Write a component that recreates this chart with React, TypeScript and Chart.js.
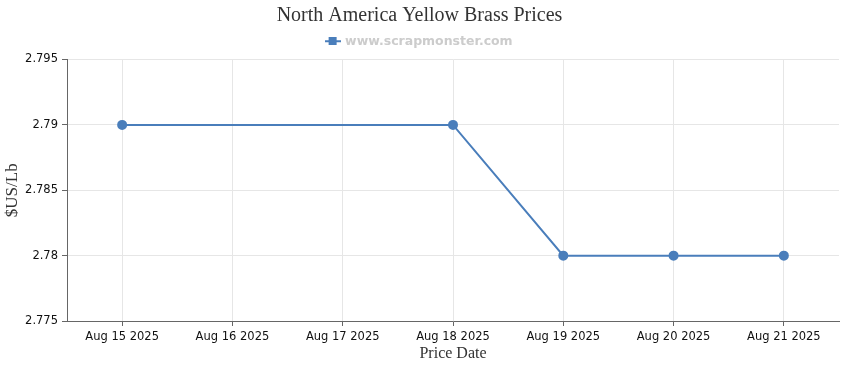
import React, { useEffect, useRef } from "react";
import { Chart, registerables } from "chart.js";

Chart.register(...registerables);

const categories = ["Aug 15 2025", "Aug 16 2025", "Aug 17 2025", "Aug 18 2025", "Aug 19 2025", "Aug 20 2025", "Aug 21 2025"];
const prices: (number | null)[] = [2.79, null, null, 2.79, 2.78, 2.78, 2.78];
const yTicks = [2.775, 2.78, 2.785, 2.79, 2.795];
const seriesName = "www.scrapmonster.com";
const chartTitle = "North America Yellow Brass Prices";
const xTitle = "Price Date";
const yTitle = "$US/Lb";

const LINE = "#4a7ebb";

function legendIcon(): HTMLCanvasElement {
  const c = document.createElement("canvas");
  c.width = 16;
  c.height = 8;
  const g = c.getContext("2d")!;
  g.strokeStyle = LINE;
  g.lineWidth = 2;
  g.beginPath();
  g.moveTo(0, 4);
  g.lineTo(16, 4);
  g.stroke();
  g.fillStyle = LINE;
  g.fillRect(4, 0, 8, 8);
  return c;
}

export default function App() {
  const ref = useRef<HTMLCanvasElement>(null);
  useEffect(() => {
    if (!ref.current) return;
    const icon = legendIcon();
    const chart = new Chart(ref.current, {
      type: "line",
      data: {
        labels: categories,
        datasets: [
          {
            label: seriesName,
            data: prices,
            borderColor: LINE,
            backgroundColor: LINE,
            borderWidth: 2,
            pointRadius: 4,
            pointHoverRadius: 4,
            pointBackgroundColor: LINE,
            pointBorderColor: LINE,
            spanGaps: true,
            tension: 0,
          },
        ],
      },
      options: {
        animation: false,
        responsive: false,
        maintainAspectRatio: false,
        layout: { padding: { left: 0, right: 11, top: 4, bottom: 0 } },
        plugins: {
          title: {
            display: true,
            text: chartTitle,
            color: "#333333",
            font: { family: "'Liberation Serif', serif", size: 20, weight: "normal", lineHeight: 1.2 },
            padding: { top: 0, bottom: 0 },
          },
          subtitle: {
            display: true,
            text: "",
            position: "top",
            weight: 500,
            font: { size: 1, lineHeight: 1 },
            padding: { top: 0, bottom: 1 },
          } as any,
          legend: {
            display: true,
            labels: {
              usePointStyle: true,
              pointStyle: icon as any,
              color: "#cccccc",
              font: { family: "'DejaVu Sans', sans-serif", size: 12.5, weight: "bold" },
              padding: 7,
            },
          },
          tooltip: { enabled: false },
        },
        scales: {
          x: {
            offset: true,
            afterFit: (s: any) => {
              s.height = 49;
            },
            grid: {
              color: "#e6e6e6",
              tickColor: "#666666",
              tickLength: 5,
              offset: false,
            },
            border: { color: "#666666", width: 1 },
            ticks: {
              color: "#111111",
              font: { family: "'DejaVu Sans', sans-serif", size: 11.5 },
              maxRotation: 0,
              padding: 4,
            },
            title: {
              display: true,
              text: xTitle,
              color: "#333333",
              font: { family: "'Liberation Serif', serif", size: 16 },
              padding: { top: 0, bottom: 7 },
            },
          },
          y: {
            min: 2.775,
            max: 2.795,
            afterFit: (s: any) => {
              s.width = 67;
            },
            afterBuildTicks: (s: any) => {
              s.ticks = yTicks.map((v) => ({ value: v }));
            },
            grid: {
              color: "#e6e6e6",
              tickColor: "#666666",
              tickLength: 5,
            },
            border: { color: "#666666", width: 1 },
            ticks: {
              color: "#111111",
              font: { family: "'DejaVu Sans', sans-serif", size: 11.5 },
              padding: 4,
              callback: (v: any) => String(Number(v)),
            },
            title: {
              display: true,
              text: yTitle,
              color: "#333333",
              font: { family: "'Liberation Serif', serif", size: 17 },
              padding: { top: 2, bottom: 0 },
            },
          },
        },
      },
    });
    return () => chart.destroy();
  }, []);
  return (
    <div style={{ position: "fixed", left: 0, top: 0, width: 850, height: 370, background: "#fff" }}>
      <canvas ref={ref} width={850} height={370} style={{ display: "block" }} />
    </div>
  );
}
